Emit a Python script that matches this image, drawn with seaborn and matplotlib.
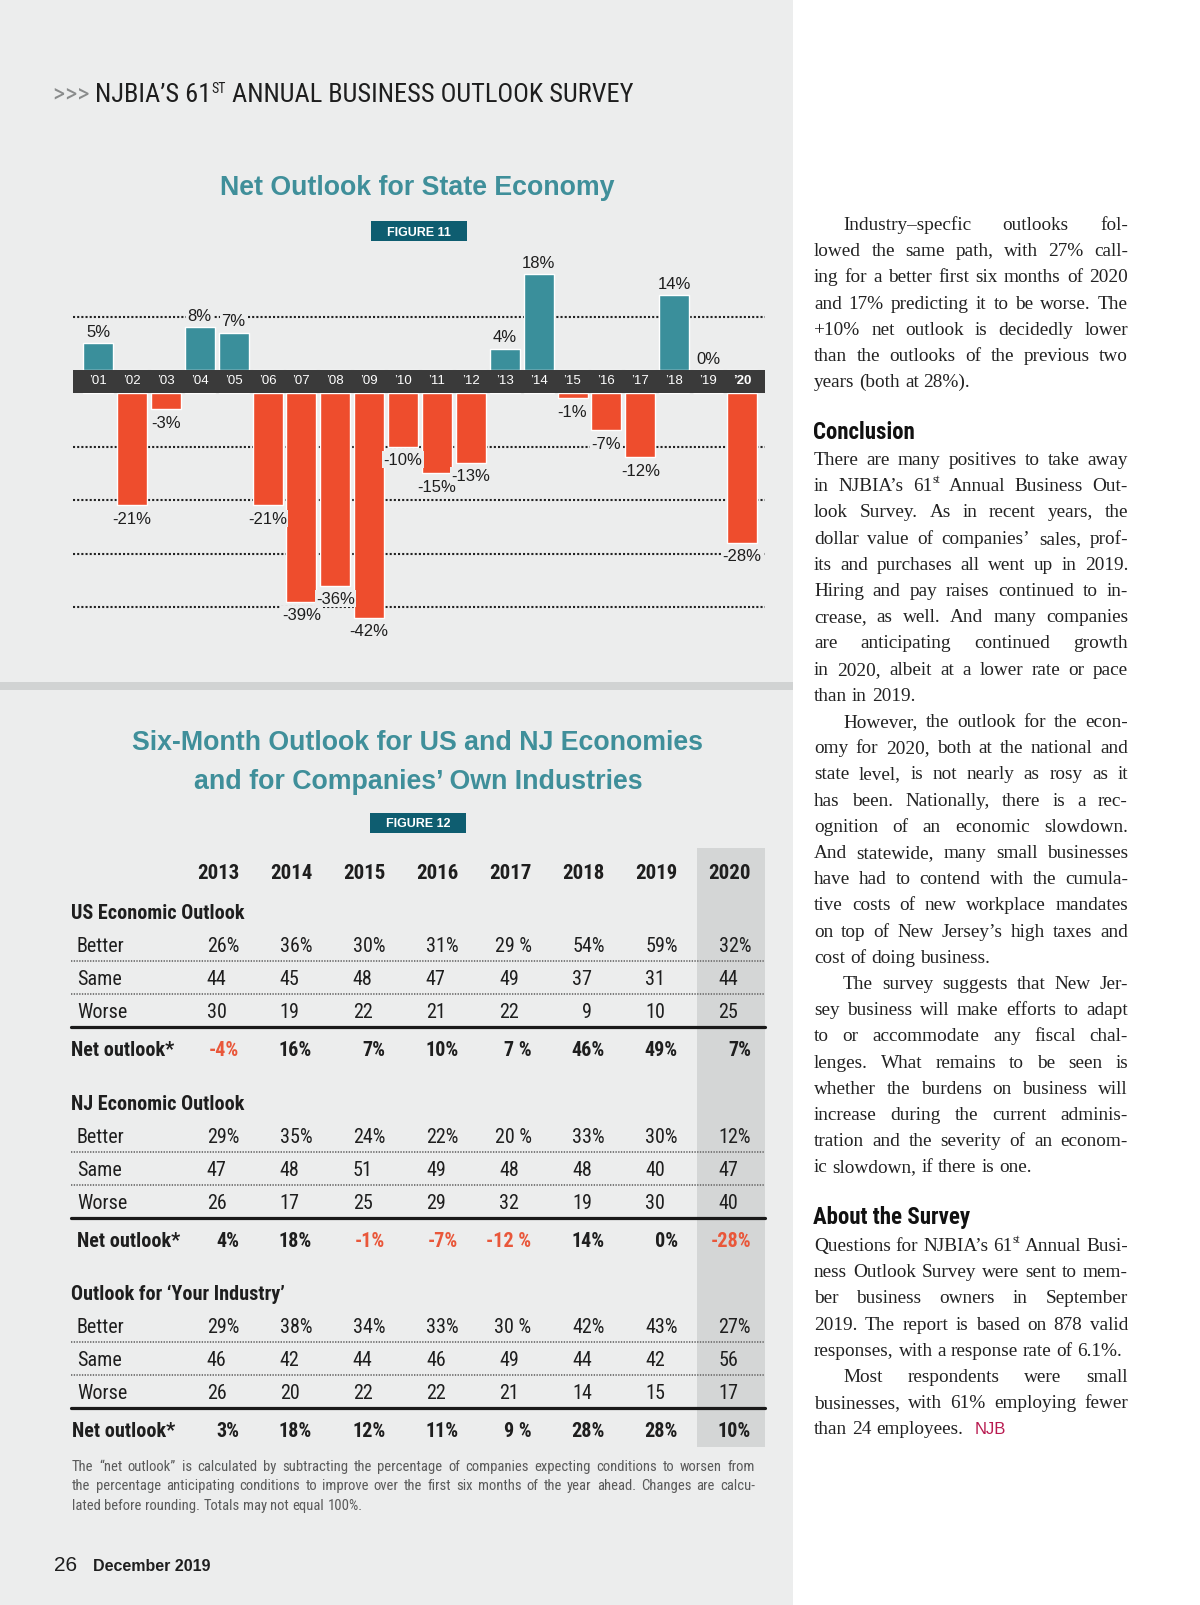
import numpy as np
import pandas as pd
import matplotlib
matplotlib.use("Agg")
import matplotlib.pyplot as plt
import seaborn as sns
from matplotlib import font_manager
from matplotlib.patches import Rectangle

# ---------------- data ----------------
bar_years = ["’01", "’02", "’03", "’04", "’05", "’06", "’07", "’08", "’09", "’10",
             "’11", "’12", "’13", "’14", "’15", "’16", "’17", "’18", "’19", "’20"]
net_state = [5, -21, -3, 8, 7, -21, -39, -36, -42, -10,
             -15, -13, 4, 18, -1, -7, -12, 14, 0, -28]

table_years = ["2013", "2014", "2015", "2016", "2017", "2018", "2019", "2020"]
pct_gap = ["", "", "", "", " ", "", "", ""]  # the 2017 column is printed as "29 %"

us_better = [26, 36, 30, 31, 29, 54, 59, 32]
us_same = [44, 45, 48, 47, 49, 37, 31, 44]
us_worse = [30, 19, 22, 21, 22, 9, 10, 25]
us_net = [-4, 16, 7, 10, 7, 46, 49, 7]

nj_better = [29, 35, 24, 22, 20, 33, 30, 12]
nj_same = [47, 48, 51, 49, 48, 48, 40, 47]
nj_worse = [26, 17, 25, 29, 32, 19, 30, 40]
nj_net = [4, 18, -1, -7, -12, 14, 0, -28]

ind_better = [29, 38, 34, 33, 30, 42, 43, 27]
ind_same = [46, 42, 44, 46, 49, 44, 42, 56]
ind_worse = [26, 20, 22, 22, 21, 14, 15, 17]
ind_net = [3, 18, 12, 11, 9, 28, 28, 10]

footnote = [
    "The “net outlook” is calculated by subtracting the percentage of companies expecting conditions to worsen from",
    "the percentage anticipating conditions to improve over the first six months of the year ahead. Changes are calcu-",
    "lated before rounding. Totals may not equal 100%.",
]

para_intro = [
    "Industry–specfic outlooks fol-",
    "lowed the same path, with 27% call-",
    "ing for a better first six months of 2020",
    "and 17% predicting it to be worse. The",
    "+10% net outlook is decidedly lower",
    "than the outlooks of the previous two",
    "years (both at 28%).",
]
para_conc1 = [
    "There are many positives to take away",
    "in NJBIA’s 61^st Annual Business Out-",
    "look Survey. As in recent years, the",
    "dollar value of companies’ sales, prof-",
    "its and purchases all went up in 2019.",
    "Hiring and pay raises continued to in-",
    "crease, as well. And many companies",
    "are anticipating continued growth",
    "in 2020, albeit at a lower rate or pace",
    "than in 2019.",
]
para_conc2 = [
    "However, the outlook for the econ-",
    "omy for 2020, both at the national and",
    "state level, is not nearly as rosy as it",
    "has been. Nationally, there is a rec-",
    "ognition of an economic slowdown.",
    "And statewide, many small businesses",
    "have had to contend with the cumula-",
    "tive costs of new workplace mandates",
    "on top of New Jersey’s high taxes and",
    "cost of doing business.",
]
para_conc3 = [
    "The survey suggests that New Jer-",
    "sey business will make efforts to adapt",
    "to or accommodate any fiscal chal-",
    "lenges. What remains to be seen is",
    "whether the burdens on business will",
    "increase during the current adminis-",
    "tration and the severity of an econom-",
    "ic slowdown, if there is one.",
]
para_about1 = [
    "Questions for NJBIA’s 61^st Annual Busi-",
    "ness Outlook Survey were sent to mem-",
    "ber business owners in September",
    "2019. The report is based on 878 valid",
    "responses, with a response rate of 6.1%.",
]
para_about2 = [
    "Most respondents were small",
    "businesses, with 61% employing fewer",
    "than 24 employees.",
]

# ---------------- style ----------------
PANEL = "#ECEDED"
RULE = "#D1D3D3"
TEAL = "#3A8F9B"
RED = "#EE4D2D"
BAND = "#3A3A3A"
TITLE = "#3F8F9A"
BOX = "#0E5D70"
SHADE = "#D4D6D6"
RED_TXT = "#E9573A"
INK = "#1E1E1E"
NOTE = "#5A5A5A"

sns.set_style("white")
plt.rcParams["font.family"] = ["Liberation Sans", "DejaVu Sans"]

avail = {f.name for f in font_manager.fontManager.ttflist}


def pick(*names):
    for n in names:
        if n in avail:
            return n
    return "DejaVu Sans"


SANS = pick("Liberation Sans", "Arimo", "DejaVu Sans")
NARROW = pick("Liberation Sans Narrow", "Roboto Condensed", "Liberation Sans")
SERIF = pick("Liberation Serif", "DejaVu Serif")

fig = plt.figure(figsize=(12, 16.06), dpi=100)
fig.patch.set_facecolor("white")
page = fig.add_axes([0, 0, 1, 1])
page.set_xlim(0, 1200)
page.set_ylim(1606, 0)
page.axis("off")
page.add_patch(Rectangle((0, 0), 793, 1606, color=PANEL, lw=0, zorder=0))
page.add_patch(Rectangle((0, 683), 793, 8, color=RULE, lw=0, zorder=0.5))

renderer = fig.canvas.get_renderer()


def width_of(s, **kw):
    t = page.text(0, 0, s, **kw)
    w = t.get_window_extent(renderer).width
    t.remove()
    return w


def run(x, y, pieces):
    # draw text pieces one after another on the same baseline
    for s, kw, rise in pieces:
        page.text(x, y - rise, s, va="baseline", ha="left", **kw)
        x += width_of(s, **kw)
    return x


def word_width(word, kw):
    if "^" in word:
        base, sup = word.split("^")
        return width_of(base, **kw) + width_of(sup, **{**kw, "size": kw["size"] * 0.6})
    return width_of(word, **kw)


def put_word(x, y, word, kw):
    if "^" in word:
        base, sup = word.split("^")
        page.text(x, y, base, va="baseline", **kw)
        x2 = x + width_of(base, **kw)
        page.text(x2 + 0.5, y - kw["size"] * 0.6, sup, va="baseline",
                  **{**kw, "size": kw["size"] * 0.6})
    else:
        page.text(x, y, word, va="baseline", **kw)


def set_line(x, y, line, width, justify, kw):
    words = line.split()
    ws = [word_width(w, kw) for w in words]
    space = width_of("a a", **kw) - width_of("aa", **kw)
    if justify and len(words) > 1:
        gap = (width - sum(ws)) / (len(words) - 1)
    else:
        gap = space
    for w, wd in zip(words, ws):
        put_word(x, y, w, kw)
        x += wd + gap
    return x - gap


# ---------------- header ----------------
hkw = dict(family=NARROW, size=19, color=INK)
run(53, 102, [(">>> ", dict(hkw, color="#8A8C8C"), 0),
              ("NJBIA’S 61", hkw, 0),
              ("ST", dict(hkw, size=10), 9),
              (" ANNUAL BUSINESS OUTLOOK SURVEY", hkw, 0)])

# ---------------- figure 11: bar chart ----------------
page.text(417, 188, "Net Outlook for State Economy", ha="center", va="center",
          color=TITLE, size=19.3, weight="bold", family=SANS)
page.add_patch(Rectangle((371, 222), 96, 20, color=BOX, lw=0, zorder=1))
page.text(419, 232.5, "FIGURE 11", ha="center", va="center", color="white",
          size=9, weight="bold", family=SANS, zorder=2)

df = pd.DataFrame({"year": bar_years, "net": net_state})
df["sign"] = np.where(df["net"] >= 0, "pos", "neg")

PX = 5.35  # pixels per percentage point
X0, X1 = 73, 765
band_top, band_bot = 371, 394
page.add_patch(Rectangle((X0, band_top), X1 - X0, band_bot - band_top,
                         color=BAND, lw=0, zorder=1))

up_h = 125
dn_h = 262
ax_up = fig.add_axes([X0 / 1200, 1 - band_top / 1606, (X1 - X0) / 1200, up_h / 1606])
ax_dn = fig.add_axes([X0 / 1200, 1 - (band_bot + dn_h) / 1606, (X1 - X0) / 1200, dn_h / 1606])

for ax in (ax_up, ax_dn):
    sns.barplot(data=df, x="year", y="net", hue="sign", hue_order=["pos", "neg"],
                palette={"pos": TEAL, "neg": RED}, dodge=False, width=0.885,
                saturation=1, legend=False, errorbar=None, ax=ax, zorder=2)
    ax.set_facecolor("none")
    ax.set_xlim(-0.74, 19.68)
    ax.set_xlabel("")
    ax.set_ylabel("")
    ax.set_yticks([])
    for s in ax.spines.values():
        s.set_visible(False)

ax_up.set_ylim(0, up_h / PX)
ax_dn.set_ylim(-dn_h / PX, 0)
ax_up.axhline(10, color="#222222", lw=1.5, ls=(0, (1, 1)), zorder=1)
for g in (-10, -20, -30, -40):
    ax_dn.axhline(g, color="#222222", lw=1.5, ls=(0, (1, 1)), zorder=1)

ax_up.tick_params(axis="x", length=0, pad=3, labelcolor="white", labelsize=9.5)
for lab in ax_up.get_xticklabels():
    lab.set_family(SANS)
ax_up.get_xticklabels()[-1].set_fontweight("bold")
ax_dn.set_xticks([])

lbl_box = dict(boxstyle="square,pad=0.08", fc=PANEL, ec="none")
for i, v in enumerate(net_state):
    if v >= 0:
        ax_up.annotate(f"{v}%", (i, v), xytext=(0, 3), textcoords="offset points",
                       ha="center", va="bottom", size=12, family=SANS, color=INK,
                       bbox=lbl_box, zorder=3)
    else:
        ax_dn.annotate(f"{v}%", (i, v), xytext=(0, -4), textcoords="offset points",
                       ha="center", va="top", size=12, family=SANS, color=INK,
                       bbox=lbl_box, zorder=3)

# ---------------- figure 12: table ----------------
page.text(418, 743, "Six-Month Outlook for US and NJ Economies", ha="center", va="center",
          color=TITLE, size=19.3, weight="bold", family=SANS)
page.text(418, 782, "and for Companies’ Own Industries", ha="center", va="center",
          color=TITLE, size=19.3, weight="bold", family=SANS)
page.add_patch(Rectangle((370, 814), 96, 20, color=BOX, lw=0, zorder=1))
page.text(418, 824.5, "FIGURE 12", ha="center", va="center", color="white",
          size=9, weight="bold", family=SANS, zorder=2)

col_right = np.linspace(239, 751, len(table_years))
page.add_patch(Rectangle((697, 849), 68, 599, color=SHADE, lw=0, zorder=0.6))

tkw = dict(family=NARROW, size=14.5, color=INK)
bkw = dict(tkw, weight="bold")
pct_w = width_of("%", **tkw)

for x, yr in zip(col_right, table_years):
    page.text(x, 879, yr, ha="right", va="baseline", **dict(bkw, size=15))

sections = [
    ("US Economic Outlook", us_better, us_same, us_worse, us_net),
    ("NJ Economic Outlook", nj_better, nj_same, nj_worse, nj_net),
    ("Outlook for ‘Your Industry’", ind_better, ind_same, ind_worse, ind_net),
]
sec_top = [912, 1103, 1293]
net_x = [71, 77, 72]

for (title, better, same, worse, net), y0, nx in zip(sections, sec_top, net_x):
    off = 7
    page.text(71, y0 + off, title, ha="left", va="baseline", **bkw)
    rows = [("Better", better, True), ("Same", same, False), ("Worse", worse, False)]
    for k, (lab, vals, pct) in enumerate(rows):
        y = y0 + 33 + 32.8 * k + off
        page.text(77, y, lab, ha="left", va="baseline", **tkw)
        for i, v in enumerate(vals):
            if pct:
                page.text(col_right[i], y, f"{v}{pct_gap[i]}%", ha="right", va="baseline", **tkw)
            else:
                page.text(col_right[i] - pct_w, y, f"{v}", ha="right", va="baseline", **tkw)
    for dy in (50, 82.5):
        page.plot([71, 765], [y0 + dy] * 2, color="#7A7A7A", lw=1.4, ls=(0, (0.7, 0.7)), zorder=2)
    page.plot([71, 765], [y0 + 115.5] * 2, color="#1A1A1A", lw=2.3, zorder=2)
    yn = y0 + 137 + off
    page.text(nx, yn, "Net outlook*", ha="left", va="baseline", **bkw)
    for i, v in enumerate(net):
        page.text(col_right[i], yn, f"{v}{pct_gap[i]}%", ha="right", va="baseline",
                  **dict(bkw, color=RED_TXT if v < 0 else INK))

nkw = dict(family=NARROW, size=10.5, color=NOTE)
for k, line in enumerate(footnote):
    set_line(72, 1471 + 19.5 * k, line, 683, k < len(footnote) - 1, nkw)

page.text(54, 1571, "26", ha="left", va="baseline", family=SANS, size=15, color=INK)
page.text(93, 1571, "December 2019", ha="left", va="baseline", family=SANS, size=11.5,
          weight="bold", color=INK)

# ---------------- right column text ----------------
TX0, TX1 = 814, 1128
TW = TX1 - TX0
LH = 26.2
INDENT = 29

blocks = [
    (230, [(True, para_intro)]),
    (465, [(False, para_conc1), (True, para_conc2), (True, para_conc3)]),
    (1251, [(False, para_about1), (True, para_about2)]),
]

# fit the serif size so the justified lines fit the column
probe = dict(family=SERIF, size=13, color=INK)
nat = []
for _, paras in blocks:
    for ind, lines in paras:
        for j, line in enumerate(lines[:-1]):
            words = line.split()
            sp = width_of("a a", **probe) - width_of("aa", **probe)
            w = sum(word_width(wd, probe) for wd in words) + sp * (len(words) - 1)
            nat.append(w + (INDENT if (ind and j == 0) else 0))
body_size = min(14.0, 13 * TW / max(nat) * 0.995)
skw = dict(family=SERIF, size=body_size, color="#222222")

for y, paras in blocks:
    for ind, lines in paras:
        for j, line in enumerate(lines):
            x = TX0 + (INDENT if (ind and j == 0) else 0)
            end = set_line(x, y, line, TX1 - x, j < len(lines) - 1, skw)
            y += LH
last_end = end

page.text(last_end + 12, y - LH, "NJB", ha="left", va="baseline", family=SANS,
          size=12, color="#B8194F")

hdkw = dict(family=NARROW, size=16.5, weight="bold", color="#111111")
page.text(TX0 - 1, 439, "Conclusion", ha="left", va="baseline", **hdkw)
page.text(TX0 - 1, 1224, "About the Survey", ha="left", va="baseline", **hdkw)

fig.savefig("out.png", dpi=100, facecolor="white")
